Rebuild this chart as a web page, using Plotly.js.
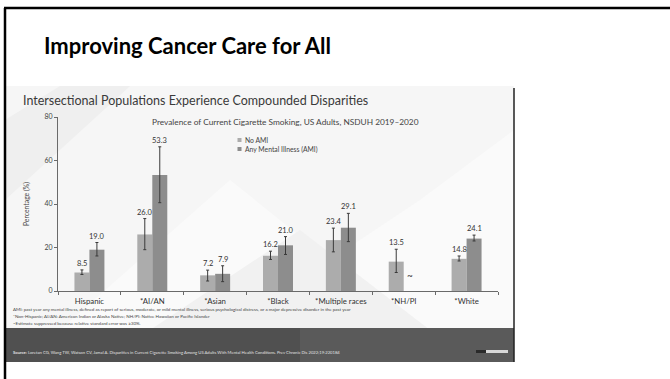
<!DOCTYPE html>
<html>
<head>
<meta charset="utf-8">
<script src="https://cdn.plot.ly/plotly-3.0.1.min.js"></script>
<style>html,body{margin:0;padding:0;background:#fff;}#chart{width:670px;height:379px;}</style>
</head>
<body>
<div id="chart"></div>
<script>
// ---- data ----
const categories = ['Hispanic', '*AI/AN', '*Asian', '*Black', '*Multiple races', '*NH/PI', '*White'];
const seriesNames = ['No AMI', 'Any Mental Illness (AMI)'];
const noAmi   = [8.5, 26.0, 7.2, 16.2, 23.4, 13.5, 14.8];
const noAmiLo = [7.6, 19.0, 4.6, 14.5, 18.0, 8.5, 13.8];
const noAmiHi = [9.7, 33.3, 9.6, 18.3, 28.9, 19.2, 16.1];
const ami     = [19.0, 53.3, 7.9, 21.0, 29.1, null, 24.1];
const amiLo   = [16.1, 40.6, 4.3, 16.8, 22.7, null, 23.0];
const amiHi   = [22.3, 66.3, 11.6, 25.0, 35.7, null, 25.7];
const suppressedMark = '~';
const yTicks = [0, 20, 40, 60, 80];

const slideTitle = 'Improving Cancer Care for All';
const imgTitle = 'Intersectional Populations Experience Compounded Disparities';
const chartTitle = 'Prevalence of Current Cigarette Smoking, US Adults, NSDUH 2019\u20132020';
const footnotes = [
  'AMI: past year any mental illness, defined as report of serious, moderate, or mild mental illness, serious psychological distress, or a major depressive disorder in the past year',
  '*Non-Hispanic; AI/AN: American Indian or Alaska Native; NH/PI: Native Hawaiian or Pacific Islander',
  '~Estimate suppressed because relative standard error was \u226530%.'
];
const sourceText = '<b>Source:</b> Loretan CG, Wang TW, Watson CV, Jamal A. Disparities in Current Cigarette Smoking Among US Adults With Mental Health Conditions. Prev Chronic Dis 2022;19:220184';

// ---- geometry helpers (pixel -> paper) ----
const W = 670, H = 379;
const PL = 58, PR = 498, PT = 117, PB = 291;
const px = v => (v - PL) / (PR - PL);
const py = v => (PB - v) / (PB - PT);

const colNo = '#acacac', colAmi = '#8d8d8d';
const FONT = 'Lato, Carlito, "Open Sans", sans-serif';

const errP = (v, hi) => v.map((x, i) => x == null ? null : +(hi[i] - x).toFixed(2));
const errM = (v, lo) => v.map((x, i) => x == null ? null : +(x - lo[i]).toFixed(2));

const traces = [
  {type: 'bar', name: seriesNames[0], x: categories, y: noAmi, marker: {color: colNo},
   error_y: {type: 'data', symmetric: false, array: errP(noAmi, noAmiHi), arrayminus: errM(noAmi, noAmiLo), color: '#3a3a3a', thickness: 1, width: 1.5},
   hoverinfo: 'skip'},
  {type: 'bar', name: seriesNames[1], x: categories, y: ami, marker: {color: colAmi},
   error_y: {type: 'data', symmetric: false, array: errP(ami, amiHi), arrayminus: errM(ami, amiLo), color: '#3a3a3a', thickness: 1, width: 1.5},
   hoverinfo: 'skip'}
];

const ann = [];
const BARHALF = 7.5;
categories.forEach((c, i) => {
  ann.push({x: c, y: noAmiHi[i], xref: 'x', yref: 'y', xshift: -BARHALF, yshift: 0, yanchor: 'bottom', showarrow: false,
            text: noAmi[i].toFixed(1), font: {family: FONT, size: 7.5, color: '#333'}});
  if (ami[i] != null) {
    ann.push({x: c, y: amiHi[i], xref: 'x', yref: 'y', xshift: BARHALF, yshift: 0, yanchor: 'bottom', showarrow: false,
              text: ami[i].toFixed(1), font: {family: FONT, size: 7.5, color: '#333'}});
  } else {
    ann.push({x: c, y: 0, xref: 'x', yref: 'y', xshift: BARHALF - 1, yshift: 8, yanchor: 'bottom', showarrow: false,
              text: suppressedMark, font: {family: FONT, size: 10, color: '#333'}});
  }
});

// slide & image texts
ann.push({xref: 'paper', yref: 'paper', x: px(42), y: py(45), xanchor: 'left', yanchor: 'middle', showarrow: false,
          text: '<b>' + slideTitle + '</b>', font: {family: FONT, size: 22, color: '#000'}});
ann.push({xref: 'paper', yref: 'paper', x: px(21), y: py(100), xanchor: 'left', yanchor: 'middle', showarrow: false,
          text: imgTitle, font: {family: FONT, size: 12.5, color: '#3a3a3a'}});
ann.push({xref: 'paper', yref: 'paper', x: px(150), y: py(122), xanchor: 'left', yanchor: 'middle', showarrow: false,
          text: chartTitle, font: {family: FONT, size: 8.3, color: '#444'}});
// legend (manual)
[140, 149].forEach((yy, k) => {
  ann.push({xref: 'paper', yref: 'paper', x: px(243), y: py(yy), xanchor: 'left', yanchor: 'middle', showarrow: false,
            text: seriesNames[k], font: {family: FONT, size: 6.8, color: '#444'}});
});
// footnotes
[309, 316, 323].forEach((yy, k) => {
  ann.push({xref: 'paper', yref: 'paper', x: px(11), y: py(yy), xanchor: 'left', yanchor: 'middle', showarrow: false,
            text: footnotes[k], font: {family: FONT, size: 4.5, color: '#444'}});
});
ann.push({xref: 'paper', yref: 'paper', x: px(11), y: py(352), xanchor: 'left', yanchor: 'middle', showarrow: false,
          text: sourceText, font: {family: FONT, size: 4.2, color: '#e0e0e0'}});

const rect = (x0, y0, x1, y1, fill, layer, line) => ({type: 'rect', xref: 'paper', yref: 'paper',
  x0: px(x0), x1: px(x1), y0: py(y1), y1: py(y0), fillcolor: fill, line: line || {width: 0}, layer: layer || 'below'});
const path = (pts, fill) => ({type: 'path', xref: 'paper', yref: 'paper', layer: 'below', fillcolor: fill, line: {width: 0},
  path: 'M' + pts.map(p => px(p[0]) + ',' + py(p[1])).join(' L') + ' Z'});

const shapes = [
  rect(5, 86, 514, 330, '#f6f6f6'),
  path([[5, 120], [60, 86], [130, 86], [5, 200]], '#efefef'),
  path([[60, 330], [230, 180], [330, 260], [420, 200], [514, 130], [514, 330]], '#fafafa'),
  path([[150, 330], [300, 230], [430, 330]], '#f1f1f1'),
  rect(5, 328, 514, 362, '#505050'),
  rect(300, 328, 514, 362, 'rgba(255,255,255,0.06)'),
  rect(476, 350, 486, 353, '#2a2a2a'),
  rect(486, 350, 508, 353, '#d8d8d8'),
  // vertical edge of the picture
  {type: 'line', xref: 'paper', yref: 'paper', x0: px(514), x1: px(514), y0: py(88), y1: py(362), line: {color: '#222', width: 1.5}, layer: 'above'},
  // slide border
  {type: 'line', xref: 'paper', yref: 'paper', x0: px(4), x1: px(670), y0: py(8), y1: py(8), line: {color: '#000', width: 2.5}, layer: 'above'},
  {type: 'line', xref: 'paper', yref: 'paper', x0: px(5), x1: px(5), y0: py(8), y1: py(379), line: {color: '#000', width: 2.5}, layer: 'above'},
  // legend swatches
  rect(237.5, 138, 241.5, 142, colNo, 'above'),
  rect(237.5, 147, 241.5, 151, colAmi, 'above')
];

const layout = {
  width: W, height: H,
  margin: {l: PL, r: W - PR, t: PT, b: H - PB, pad: 0},
  paper_bgcolor: '#ffffff', plot_bgcolor: 'rgba(0,0,0,0)',
  barmode: 'group', bargap: 0.523, bargroupgap: 0,
  showlegend: false,
  font: {family: FONT, color: '#333'},
  xaxis: {type: 'category', categoryarray: categories, showgrid: false, zeroline: false,
          showline: true, linecolor: '#6a6a6a', linewidth: 1,
          ticks: 'outside', tickson: 'boundaries', ticklen: 3, tickcolor: '#6a6a6a', ticklabelstandoff: 3,
          tickfont: {family: FONT, size: 7.8, color: '#333'}, fixedrange: true},
  yaxis: {range: [0, 80], tickvals: yTicks, showgrid: false, zeroline: false,
          showline: true, linecolor: '#6a6a6a', linewidth: 1,
          ticks: 'outside', ticklen: 3, tickcolor: '#6a6a6a',
          tickfont: {family: FONT, size: 7, color: '#444'},
          title: {text: 'Percentage (%)', font: {family: FONT, size: 6.8, color: '#444'}, standoff: 14}, fixedrange: true},
  annotations: ann,
  shapes: shapes
};

Plotly.newPlot('chart', traces, layout, {staticPlot: true, displayModeBar: false});
</script>
</body>
</html>
